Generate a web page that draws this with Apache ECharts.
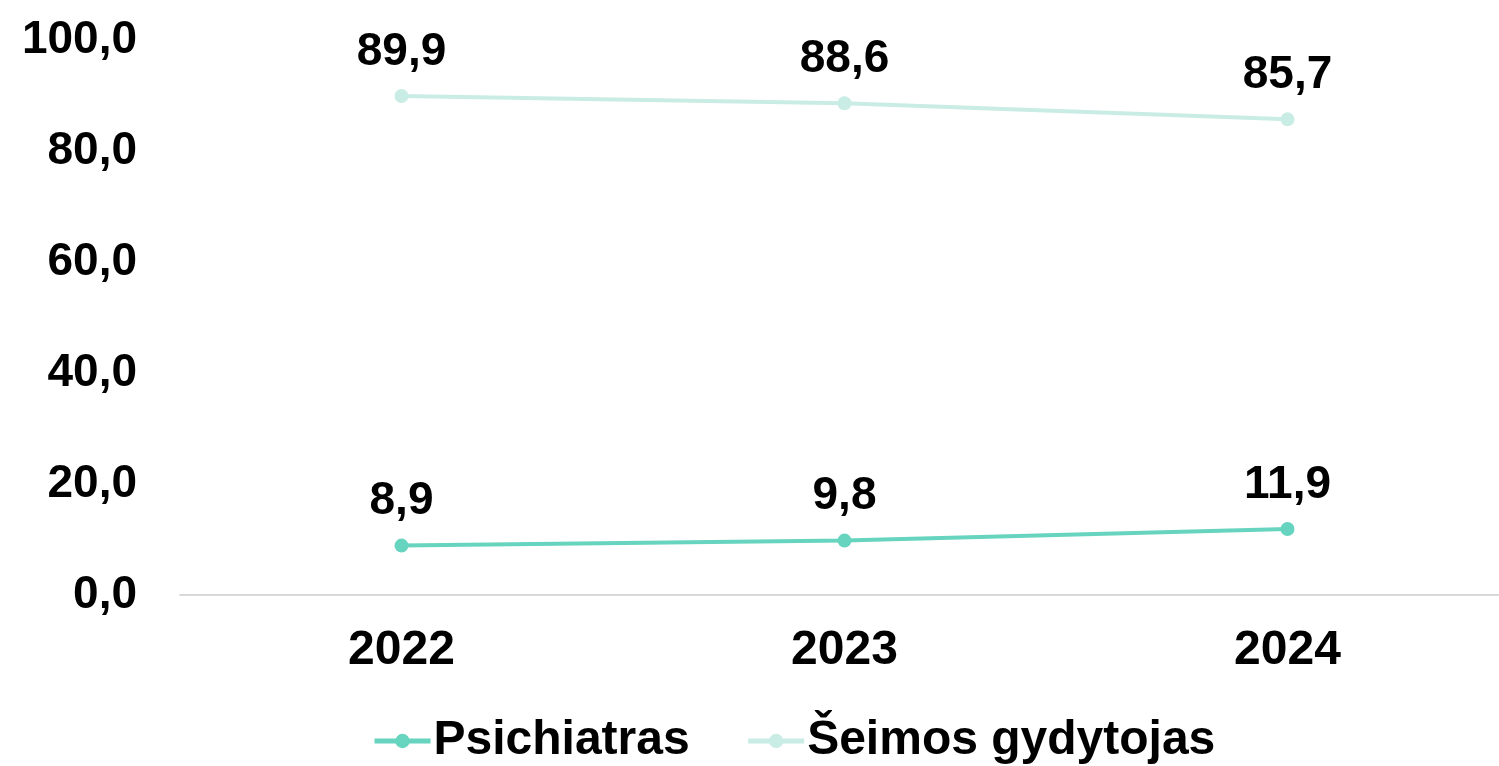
<!DOCTYPE html>
<html>
<head>
<meta charset="utf-8">
<script src="https://cdn.jsdelivr.net/npm/echarts@6/dist/echarts.min.js"></script>
<style>
  html, body { margin: 0; padding: 0; background: #fff; }
  #chart { width: 1499px; height: 766px; }
</style>
</head>
<body>
<div id="chart"></div>
<script>
// metai
const years = ['2022', '2023', '2024']
// reikšmės, %
const psichiatras = [8.9, 9.8, 11.9]
const seimosGydytojas = [89.9, 88.6, 85.7]

const fmt = v => v.toFixed(1).replace('.', ',')
const font = 'Liberation Sans, Arial, sans-serif'

const makeSeries = function (name, data, color) {
  return {
    name: name,
    type: 'line',
    data: data,
    symbol: 'circle',
    symbolSize: 14,
    lineStyle: { color: color, width: 4 },
    itemStyle: { color: color },
    label: {
      show: true,
      position: 'top',
      distance: 14,
      color: '#000',
      fontFamily: font,
      fontWeight: 'bold',
      fontSize: 46,
      formatter: p => fmt(p.value)
    }
  }
}

const myChart = echarts.init(document.getElementById('chart'))
myChart.setOption({
  animation: false,
  textStyle: { fontFamily: font },
  grid: { left: 180, top: 40, right: -10, bottom: 171, outerBoundsMode: 'none' },
  legend: {
    bottom: -4,
    left: 367,
    itemWidth: 56,
    itemHeight: 18,
    itemGap: 56,
    lineStyle: { width: 5 },
    textStyle: { color: '#000', fontSize: 48, fontWeight: 'bold', fontFamily: font, padding: [0, 0, 0, -2] },
    data: ['Psichiatras', 'Šeimos gydytojas']
  },
  xAxis: {
    type: 'category',
    data: years,
    boundaryGap: true,
    axisLine: { lineStyle: { color: '#d9d9d9', width: 2 } },
    axisTick: { show: false },
    axisLabel: { color: '#000', fontSize: 48, fontWeight: 'bold', margin: 32 }
  },
  yAxis: {
    type: 'value',
    min: 0,
    max: 100,
    interval: 20,
    splitLine: { show: false },
    axisLine: { show: false },
    axisTick: { show: false },
    axisLabel: { color: '#000', fontSize: 46, fontWeight: 'bold', margin: 43, formatter: v => fmt(v) }
  },
  series: [
    makeSeries('Psichiatras', psichiatras, '#66d4bf'),
    makeSeries('Šeimos gydytojas', seimosGydytojas, '#c9ede4')
  ]
})
</script>
</body>
</html>
